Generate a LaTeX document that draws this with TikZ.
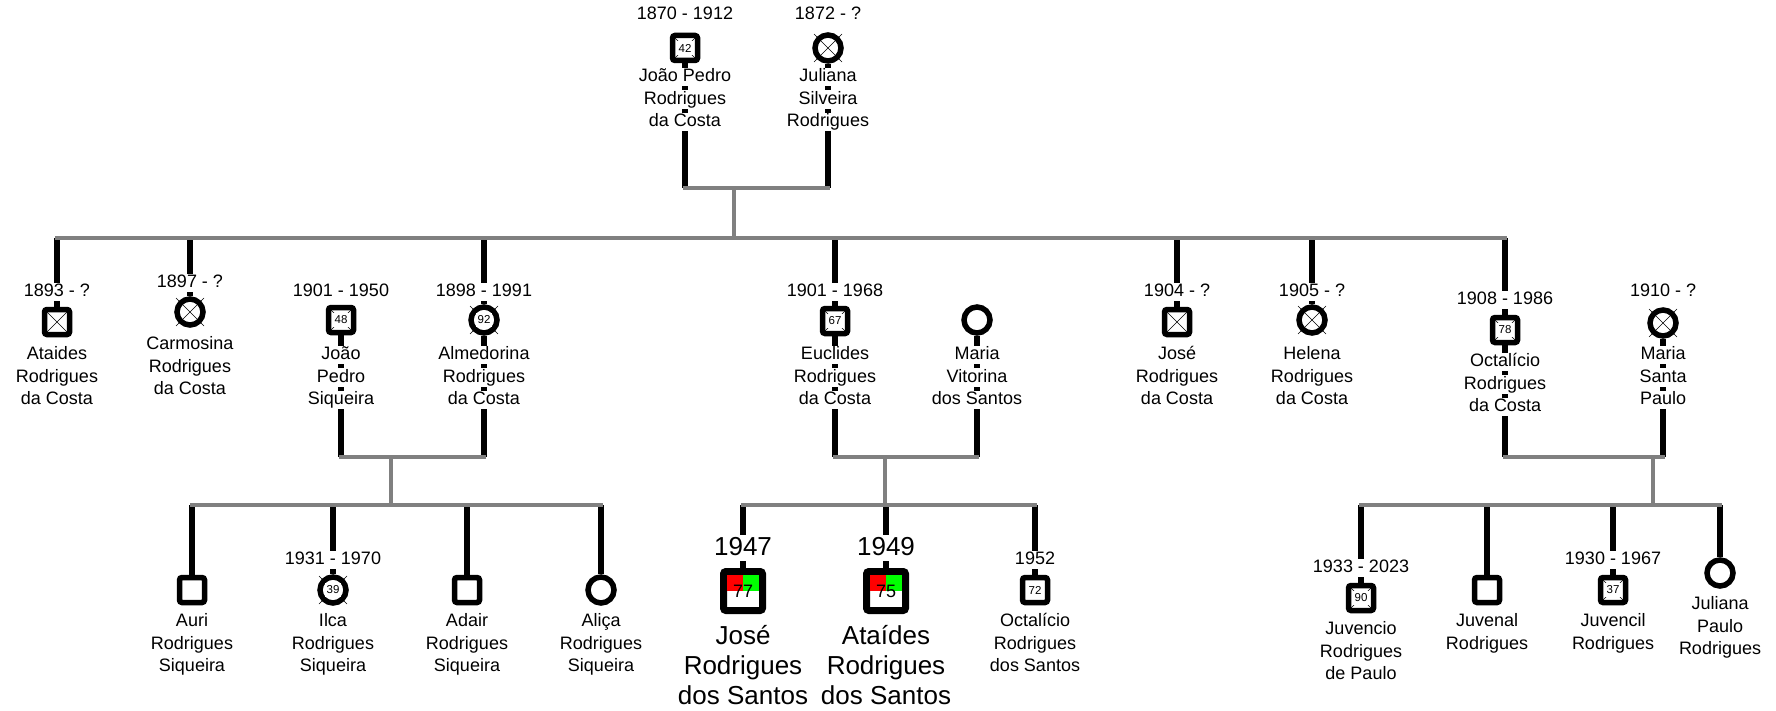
\documentclass[tikz,border=0pt]{standalone}
\usepackage{fontspec}
\setmainfont{Liberation Sans}
\definecolor{barGray}{RGB}{128,128,128}
\definecolor{markRed}{RGB}{255,0,0}
\definecolor{markGreen}{RGB}{0,255,0}
\pgfdeclarelayer{bg}
\pgfsetlayers{bg,main}
\tikzset{
  txt/.style={font=\fontsize{18}{22}\selectfont, fill=white, inner sep=0.6pt,
    text height=13.5pt, text depth=4pt},
  bigtxt/.style={font=\fontsize{26}{30}\selectfont, fill=white, inner sep=0.6pt,
    text height=19.5pt, text depth=5.5pt},
  male/.style={draw, fill=white, rectangle, rounded corners=2.5pt,
    line width=5.5pt, minimum size=25pt, inner sep=0pt},
  female/.style={draw, fill=white, circle, line width=5.5pt,
    minimum size=26pt, inner sep=0pt},
  bigmale/.style={male, line width=7pt, minimum size=39pt},
  age/.style={font=\fontsize{11.5}{12}\selectfont, fill=white, inner sep=0pt,
    minimum width=16pt, minimum height=14.5pt},
  bigage/.style={font=\fontsize{18}{20}\selectfont, inner sep=0pt},
  kin/.style={line width=5.5pt, black},
  bar/.style={line width=4.5pt, color=barGray, line cap=rect},
  xline/.style={line width=0.6pt, black},
}
% one white-backed node per text line, stacked downwards
\newcommand\plines[6]{%
  \foreach \thisline [count=\k from 0] in {#6}{%
    \node[#2] (#1-\k) at ({#3},{#4+\k*#5}) {\thisline};}}
% thin cross marking a deceased person
\newcommand\xcross[2]{%
  \draw[xline] (#1.center) ++(-#2,-#2) -- ++(2*#2,2*#2)
               (#1.center) ++(#2,-#2) -- ++(-2*#2,2*#2);}

\begin{document}
\begin{tikzpicture}[x=1pt,y=-1pt]
\useasboundingbox (0,0) rectangle (1776,711);

% ---------- first generation ----------
\node[male]   (jp)  at (685,48) {};
\node[female] (jul) at (828,48) {};
\node[txt] (jp-d)  at (685,15) {1870 - 1912};
\node[txt] (jul-d) at (828,15) {1872 - ?};
\plines{jpn}{txt}{685}{77}{22.5}{João Pedro,Rodrigues,da Costa}
\plines{juln}{txt}{828}{77}{22.5}{Juliana,Silveira,Rodrigues}

% ---------- second generation ----------
\node[male]   (ata) at (57,322) {};
\node[female] (car) at (190,312) {};
\node[male]   (jps) at (341,320) {};
\node[female] (alm) at (484,320) {};
\node[male]   (euc) at (835,321) {};
\node[female] (mvi) at (977,320) {};
\node[male]   (jos) at (1177,322) {};
\node[female] (hel) at (1312,320) {};
\node[male]   (oct) at (1505,330) {};
\node[female] (msp) at (1663,323) {};

\node[txt] (ata-d) at (57,292)   {1893 - ?};
\node[txt] (car-d) at (190,283)  {1897 - ?};
\node[txt] (jps-d) at (341,292)  {1901 - 1950};
\node[txt] (alm-d) at (484,292)  {1898 - 1991};
\node[txt] (euc-d) at (835,292)  {1901 - 1968};
\node[txt] (jos-d) at (1177,292) {1904 - ?};
\node[txt] (hel-d) at (1312,292) {1905 - ?};
\node[txt] (oct-d) at (1505,300) {1908 - 1986};
\node[txt] (msp-d) at (1663,292) {1910 - ?};

\plines{atan}{txt}{57}{355}{22.5}{Ataides,Rodrigues,da Costa}
\plines{carn}{txt}{190}{345}{22.5}{Carmosina,Rodrigues,da Costa}
\plines{jpsn}{txt}{341}{355}{22.5}{João,Pedro,Siqueira}
\plines{almn}{txt}{484}{355}{22.5}{Almedorina,Rodrigues,da Costa}
\plines{eucn}{txt}{835}{355}{22.5}{Euclides,Rodrigues,da Costa}
\plines{mvin}{txt}{977}{355}{22.5}{Maria,Vitorina,dos Santos}
\plines{josn}{txt}{1177}{355}{22.5}{José,Rodrigues,da Costa}
\plines{heln}{txt}{1312}{355}{22.5}{Helena,Rodrigues,da Costa}
\plines{octn}{txt}{1505}{362}{22.5}{Octalício,Rodrigues,da Costa}
\plines{mspn}{txt}{1663}{355}{22.5}{Maria,Santa,Paulo}

% ---------- third generation ----------
\node[male]    (aur) at (192,590) {};
\node[female]  (ilc) at (333,590) {};
\node[male]    (ada) at (467,590) {};
\node[female]  (ali) at (601,590) {};
\node[bigmale] (jrs) at (743,591) {};
\node[bigmale] (ars) at (886,591) {};
\node[male]    (ors) at (1035,590) {};
\node[male]    (jvc) at (1361,598) {};
\node[male]    (jvn) at (1487,590) {};
\node[male]    (jvl) at (1613,590) {};
\node[female]  (jpr) at (1720,573) {};

\node[txt]    (ilc-d) at (333,560)  {1931 - 1970};
\node[bigtxt] (jrs-d) at (743,548)  {1947};
\node[bigtxt] (ars-d) at (886,548)  {1949};
\node[txt]    (ors-d) at (1035,560) {1952};
\node[txt]    (jvc-d) at (1361,568) {1933 - 2023};
\node[txt]    (jvl-d) at (1613,560) {1930 - 1967};

\plines{aurn}{txt}{192}{622}{22.5}{Auri,Rodrigues,Siqueira}
\plines{ilcn}{txt}{333}{622}{22.5}{Ilca,Rodrigues,Siqueira}
\plines{adan}{txt}{467}{622}{22.5}{Adair,Rodrigues,Siqueira}
\plines{alin}{txt}{601}{622}{22.5}{Aliça,Rodrigues,Siqueira}
\plines{jrsn}{bigtxt}{743}{637}{30}{José,Rodrigues,dos Santos}
\plines{arsn}{bigtxt}{886}{637}{30}{Ataídes,Rodrigues,dos Santos}
\plines{orsn}{txt}{1035}{622}{22.5}{Octalício,Rodrigues,dos Santos}
\plines{jvcn}{txt}{1361}{630}{22.5}{Juvencio,Rodrigues,de Paulo}
\plines{jvnn}{txt}{1487}{622}{22.5}{Juvenal,Rodrigues}
\plines{jvln}{txt}{1613}{622}{22.5}{Juvencil,Rodrigues}
\plines{jprn}{txt}{1720}{605}{22.5}{Juliana,Paulo,Rodrigues}

% ---------- deceased crosses ----------
\xcross{jp}{12.5}
\xcross{jul}{14}
\xcross{ata}{12.5}
\xcross{car}{14}
\xcross{jps}{12.5}
\xcross{alm}{14}
\xcross{euc}{12.5}
\xcross{jos}{12.5}
\xcross{hel}{14}
\xcross{oct}{12.5}
\xcross{msp}{14}
\xcross{ilc}{14}
\xcross{jvc}{12.5}
\xcross{jvl}{12.5}

% ---------- ages ----------
\node[age] (jp-a)  at (jp)  {42};
\node[age] (jps-a) at (jps) {48};
\node[age] (alm-a) at (alm) {92};
\node[age] (euc-a) at (euc) {67};
\node[age] (oct-a) at (oct) {78};
\node[age] (ilc-a) at (ilc) {39};
\node[age] (ors-a) at (ors) {72};
\node[age] (jvc-a) at (jvc) {90};
\node[age] (jvl-a) at (jvl) {37};

% highlighted persons: red and green upper half
\fill[markRed]   (jrs.center) ++(-16,-16) rectangle ++(16,16);
\fill[markGreen] (jrs.center) ++(0,-16)   rectangle ++(16,16);
\fill[markRed]   (ars.center) ++(-16,-16) rectangle ++(16,16);
\fill[markGreen] (ars.center) ++(0,-16)   rectangle ++(16,16);
\node[bigage] (jrs-a) at (jrs) {77};
\node[bigage] (ars-a) at (ars) {75};

% ---------- connectors ----------
\coordinate (c1) at (734,188);  \coordinate (s1) at (734,238);
\coordinate (c2) at (391,457);  \coordinate (s2) at (391,505);
\coordinate (c3) at (885,457);  \coordinate (s3) at (885,505);
\coordinate (c4) at (1653,457); \coordinate (s4) at (1653,505);

\begin{pgfonlayer}{bg}
  % lines down from each partner to the couple bar
  \foreach \p/\c in {jp/c1,jul/c1,jps/c2,alm/c2,euc/c3,mvi/c3,oct/c4,msp/c4}
    \draw[kin] (\p.south) -- (\p |- \c);
  % lines from the sibling bars down to each child
  \foreach \p in {ata,car,alm,euc,jos,hel,oct}
    \draw[kin] (\p |- s1) -- (\p.north);
  \foreach \p in {aur,ilc,ada,ali}
    \draw[kin] (\p |- s2) -- (\p.north);
  \foreach \p in {jrs,ars,ors}
    \draw[kin] (\p |- s3) -- (\p.north);
  \foreach \p in {jvc,jvn,jvl,jpr}
    \draw[kin] (\p |- s4) -- (\p.north);
  % couple bars, drops and sibling bars
  \draw[bar] (jp |- c1) -- (jul |- c1) (c1) -- (s1) (ata |- s1) -- (oct |- s1);
  \draw[bar] (jps |- c2) -- (alm |- c2) (c2) -- (s2) (aur |- s2) -- (ali |- s2);
  \draw[bar] (euc |- c3) -- (mvi |- c3) (c3) -- (s3) (jrs |- s3) -- (ors |- s3);
  \draw[bar] (oct |- c4) -- (msp |- c4) (c4) -- (s4) (jvc |- s4) -- (jpr |- s4);
\end{pgfonlayer}
\end{tikzpicture}
\end{document}
